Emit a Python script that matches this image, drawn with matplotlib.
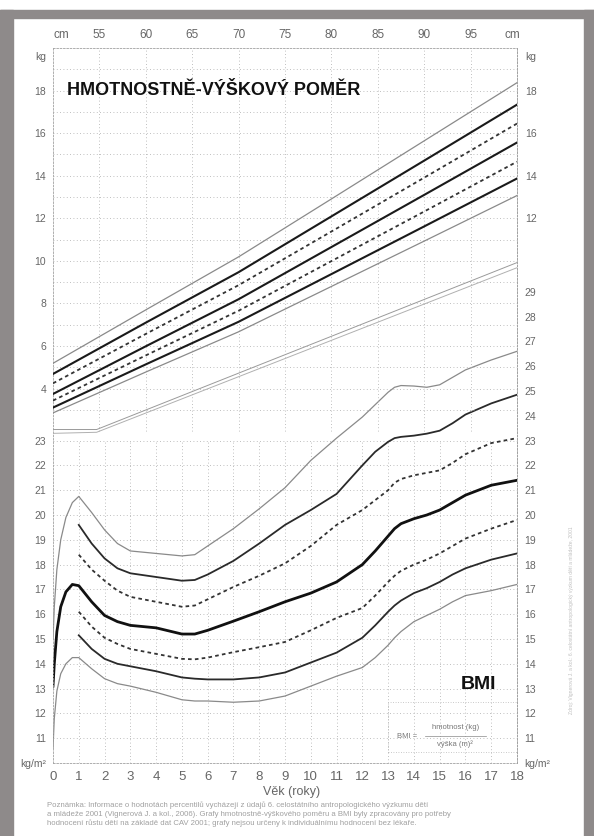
import matplotlib
matplotlib.use('Agg')
import matplotlib.pyplot as plt
from matplotlib.patches import Rectangle

plt.rcParams['font.family'] = ['Liberation Sans', 'DejaVu Sans']

# --- hmotnostne-vyskovy pomer (kg vs cm) ---
cm = [50, 60, 70, 80, 90, 100]
kg_p97 = [5.19, 7.70, 10.19, 12.91, 15.64, 18.37]
kg_p90 = [4.69, 7.10, 9.47, 12.09, 14.71, 17.34]
kg_p75 = [4.25, 6.57, 8.86, 11.38, 13.91, 16.45]
kg_p50 = [3.75, 5.99, 8.20, 10.65, 13.10, 15.56]
kg_p25 = [3.44, 5.56, 7.66, 9.99, 12.32, 14.66]
kg_p10 = [3.11, 5.14, 7.14, 9.38, 11.62, 13.87]
kg_p3 = [2.86, 4.78, 6.67, 8.80, 10.93, 13.07]

# two thin guide lines under the weight curves
guide_cm = [50, 54.7, 100]
guide_a = [2.08, 2.08, 9.92]
guide_b = [1.90, 1.95, 9.68]

# --- BMI vs vek ---
age_full = [0, 0.05, 0.15, 0.3, 0.5, 0.75, 1, 1.5, 2, 2.5, 3, 4, 5, 5.5, 6, 7, 8, 9,
            10, 11, 12, 12.5, 13, 13.25, 13.5, 14, 14.5, 15, 15.5, 16, 17, 18]
bmi_p97 = [15.0, 16.3, 17.8, 19.0, 19.9, 20.5, 20.75, 20.1, 19.4, 18.85, 18.55, 18.45, 18.35,
           18.4, 18.75, 19.45, 20.25, 21.1, 22.2, 23.1, 23.95, 24.45, 24.95, 25.15, 25.22,
           25.2, 25.15, 25.25, 25.55, 25.85, 26.25, 26.6]
bmi_p50 = [13.1, 14.0, 15.3, 16.3, 16.9, 17.2, 17.15, 16.5, 15.95, 15.7, 15.55, 15.45, 15.2,
           15.2, 15.35, 15.72, 16.1, 16.5, 16.85, 17.3, 18.0, 18.55, 19.15, 19.45, 19.65,
           19.85, 20.0, 20.2, 20.5, 20.8, 21.2, 21.4]
bmi_p3 = [10.6, 11.8, 12.9, 13.6, 14.0, 14.25, 14.25, 13.8, 13.4, 13.2, 13.1, 12.85, 12.55,
          12.5, 12.5, 12.45, 12.5, 12.7, 13.1, 13.5, 13.85, 14.25, 14.75, 15.05, 15.3,
          15.7, 15.95, 16.2, 16.5, 16.75, 16.95, 17.2]

age_from1 = [1, 1.5, 2, 2.5, 3, 4, 5, 5.5, 6, 7, 8, 9, 10, 11, 12, 12.5, 13, 13.25, 13.5,
             14, 14.5, 15, 15.5, 16, 17, 18]
bmi_p90 = [19.6, 18.85, 18.25, 17.85, 17.65, 17.5, 17.35, 17.38, 17.6, 18.15, 18.85, 19.6,
           20.2, 20.85, 22.0, 22.55, 22.95, 23.1, 23.15, 23.2, 23.28, 23.4, 23.7, 24.05,
           24.5, 24.85]
bmi_p75 = [18.4, 17.8, 17.35, 16.95, 16.7, 16.5, 16.3, 16.35, 16.6, 17.1, 17.55, 18.05,
           18.75, 19.6, 20.2, 20.6, 21.0, 21.3, 21.45, 21.6, 21.7, 21.8, 22.1, 22.45,
           22.9, 23.1]
bmi_p25 = [16.1, 15.5, 15.05, 14.8, 14.6, 14.4, 14.2, 14.18, 14.25, 14.47, 14.67, 14.88,
           15.35, 15.85, 16.25, 16.75, 17.3, 17.55, 17.75, 18.0, 18.2, 18.45, 18.75, 19.05,
           19.45, 19.8]
bmi_p10 = [15.15, 14.6, 14.2, 14.0, 13.9, 13.7, 13.45, 13.4, 13.37, 13.37, 13.45, 13.65,
           14.05, 14.45, 15.05, 15.55, 16.1, 16.35, 16.55, 16.85, 17.05, 17.3, 17.6, 17.85,
           18.2, 18.45]

ages = list(range(0, 19))
cm_ticks = [55, 60, 65, 70, 75, 80, 85, 90, 95]
kg_left = [4, 6, 8, 10, 12, 14, 16, 18]
kg_right = [12, 14, 16, 18]
bmi_left = list(range(11, 24))
bmi_right = list(range(11, 30))

W, H = 594, 836
fig = plt.figure(figsize=(W / 100, H / 100), dpi=100)
fig.patch.set_facecolor('white')

frame = '#8e8a8a'
def prect(x0, y0, x1, y1, c):
    fig.patches.append(Rectangle((x0 / W, 1 - y1 / H), (x1 - x0) / W, (y1 - y0) / H,
                                 transform=fig.transFigure, color=c, zorder=0))
prect(0, 10, 13, 836, frame)
prect(0, 10, 594, 18, frame)
prect(584, 10, 594, 836, frame)

pos = [53 / W, 73 / H, 464 / W, 715 / H]
lab = '#666666'
grid_kw = dict(color='#aaaaaa', lw=0.6, ls=(0, (1, 3)))

# BMI axes
ax = fig.add_axes(pos)
ax.set_xlim(0, 18)
ax.set_ylim(10, 10 + 715 / 24.8)
ax.set_xticks(ages)
ax.set_xticklabels([str(a) for a in ages], fontsize=9.5, color=lab)
ax.set_yticks([10] + bmi_left)
ax.set_yticklabels(['kg/m²'] + [str(b) for b in bmi_left], fontsize=7.5, color=lab)
ax.tick_params(length=0, pad=5)
ax.tick_params(axis='x', pad=6)
sec = ax.secondary_yaxis('right')
sec.set_yticks([10] + bmi_right)
sec.set_yticklabels(['kg/m²'] + [str(b) for b in bmi_right], fontsize=7.5, color=lab)
sec.tick_params(length=0, pad=5)
for sp in list(ax.spines.values()) + list(sec.spines.values()):
    sp.set_color('#a0a0a0')
    sp.set_linewidth(0.6)
    sp.set_linestyle((0, (2, 2)))

for b in bmi_left:
    ax.axhline(b, **grid_kw)
ax.vlines(ages[1:-1], 10, 23, **grid_kw)

thin = dict(color='#8a8a8a', lw=0.9)
solid = dict(color='#2a2a2a', lw=1.3)
dash = dict(color='#333333', lw=1.3, ls=(0, (2, 1.8)))
ax.plot(age_full, bmi_p97, **thin)
ax.plot(age_from1, bmi_p90, **solid)
ax.plot(age_from1, bmi_p75, **dash)
ax.plot(age_full, bmi_p50, color='#111111', lw=2.0)
ax.plot(age_from1, bmi_p25, **dash)
ax.plot(age_from1, bmi_p10, **solid)
ax.plot(age_full, bmi_p3, **thin)

ax.text(16.5, 13.15, 'BMI', fontsize=14, fontweight='bold', color='#111111',
        ha='center', va='center')
ax.add_patch(Rectangle((13, 10.44), 5, 2.0, fill=False, ec='#b8b8b8', lw=0.6, ls=(0, (1, 2))))
ax.text(13.35, 11.08, 'BMI =', fontsize=5.5, color='#777777', ha='left', va='center')
ax.text(15.6, 11.42, 'hmotnost (kg)', fontsize=5.5, color='#777777', ha='center', va='center')
ax.text(15.6, 10.74, 'výška (m)²', fontsize=5.5, color='#777777', ha='center', va='center')
ax.plot([14.45, 16.8], [11.1, 11.1], color='#888888', lw=0.5)

# weight-for-height axes
axk = fig.add_axes(pos, frameon=False)
axk.patch.set_alpha(0)
axk.set_xlim(50, 100)
axk.set_ylim(20 - 715 / 21.29, 20)
axk.xaxis.tick_top()
axk.set_xticks([50.9] + cm_ticks + [99.5])
axk.set_xticklabels(['cm'] + [str(c) for c in cm_ticks] + ['cm'], fontsize=8.5, color=lab)
axk.set_yticks(kg_left + [19.64])
axk.set_yticklabels([str(k) for k in kg_left] + ['kg'], fontsize=7.5, color=lab)
axk.tick_params(length=0, pad=5)
seck = axk.secondary_yaxis('right')
seck.set_yticks(kg_right + [19.64])
seck.set_yticklabels([str(k) for k in kg_right] + ['kg'], fontsize=7.5, color=lab)
seck.tick_params(length=0, pad=6)
for sp in seck.spines.values():
    sp.set_visible(False)

for k in range(3, 20):
    axk.axhline(k, **grid_kw)
axk.vlines(cm_ticks, 2, 20, **grid_kw)

thick = dict(color='#1a1a1a', lw=1.5)
axk.plot(cm, kg_p97, **thin)
axk.plot(cm, kg_p90, **thick)
axk.plot(cm, kg_p75, **dash)
axk.plot(cm, kg_p50, **thick)
axk.plot(cm, kg_p25, **dash)
axk.plot(cm, kg_p10, **thick)
axk.plot(cm, kg_p3, **thin)
axk.plot(guide_cm, guide_a, color='#9a9a9a', lw=0.7)
axk.plot(guide_cm, guide_b, color='#b0b0b0', lw=0.7)

axk.text(51.5, 18.0, 'HMOTNOSTNĚ-VÝŠKOVÝ POMĚR', fontsize=13, fontweight='bold',
         color='#111111', ha='left', va='center')

fig.text(292 / W, 1 - 792 / H, 'Věk (roky)', fontsize=9, color=lab, ha='center', va='center')

foot = ['Poznámka: Informace o hodnotách percentilů vycházejí z údajů 6. celostátního antropologického výzkumu dětí',
        'a mládeže 2001 (Vignerová J. a kol., 2006). Grafy hmotnostně-výškového poměru a BMI byly zpracovány pro potřeby',
        'hodnocení růstu dětí na základě dat CAV 2001; grafy nejsou určeny k individuálnímu hodnocení bez lékaře.']
for i, t in enumerate(foot):
    fig.text(47 / W, 1 - (805 + 9 * i) / H, t, fontsize=5.6, color='#a0a0a0', ha='left', va='center')

fig.text(571 / W, 1 - 620 / H,
         'Zdroj: Vignerová J. a kol.: 6. celostátní antropologický výzkum dětí a mládeže, 2001',
         fontsize=3.6, color='#c0c0c0', rotation=90, ha='center', va='center')

fig.savefig('out.png', dpi=100)
